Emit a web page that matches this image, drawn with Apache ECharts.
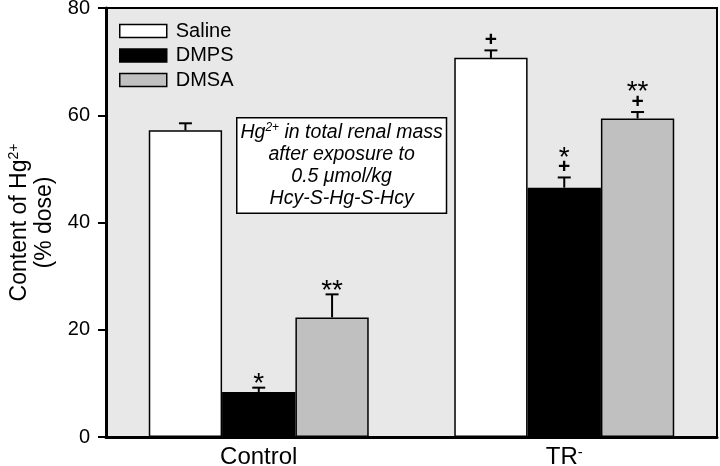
<!DOCTYPE html>
<html><head><meta charset="utf-8">
<script src="https://cdn.jsdelivr.net/npm/echarts@6/dist/echarts.min.js"></script>
<style>html,body{margin:0;padding:0;background:#fff}#c{width:720px;height:466px}</style>
</head><body><div id="c"></div>
<script>
const categories = ['Control', 'TR'];
const yTicks = [0, 20, 40, 60, 80];
const salineMean = [57.2, 70.7];
const salineErr = [1.3, 1.4];
const dmpsMean = [8.4, 46.5];
const dmpsErr = [0.8, 1.9];
const dmsaMean = [22.3, 59.4];
const dmsaErr = [4.3, 1.2];
const salineSig = ['', '+'];
const dmpsSig = ['*', '*\n+'];
const dmsaSig = ['**', '**\n+'];
const seriesNames = ['Saline', 'DMPS', 'DMSA'];
const seriesColors = ['#ffffff', '#000000', '#c0c0c0'];

const FONT = 'Liberation Sans, Arial, sans-serif';
const means = [salineMean, dmpsMean, dmsaMean];
const errs = [salineErr, dmpsErr, dmsaErr];
const sigs = [salineSig, dmpsSig, dmsaSig];
const CAT_GAP = 0.28;

function errSeries(k) {
  return {
    type: 'custom', name: seriesNames[k] + ' err', z: 5, silent: true,
    data: categories.map((c, i) => [i, means[k][i], errs[k][i]]),
    renderItem: function (params, api) {
      const idx = api.value(0), m = api.value(1), e = api.value(2);
      const sig = sigs[k][idx];
      const band = api.size([1, 0])[0];
      const bw = band * (1 - CAT_GAP) / 3;
      const cx = api.coord([idx, 0])[0] + (k - 1) * bw;
      const top = api.coord([idx, m])[1];
      const cap = api.coord([idx, m + e])[1];
      const ls = { stroke: '#000', lineWidth: 2 };
      const children = [
        { type: 'line', shape: { x1: cx, y1: top, x2: cx, y2: cap }, style: ls },
        { type: 'line', shape: { x1: cx - 6.5, y1: cap, x2: cx + 6.5, y2: cap }, style: ls }
      ];
      const lines = sig ? sig.split('\n').reverse() : [];
      let c = cap;
      lines.forEach((t, j) => {
        const star = t.indexOf('*') >= 0;
        c -= (j === 0) ? (star ? 9 : 11) : 14.5;
        children.push({ type: 'text', style: { x: cx, y: star ? c + 6 : c + 1, text: t, textAlign: 'center', textVerticalAlign: 'middle',
          font: (star ? '28px ' : 'bold 21px ') + FONT, fill: '#000' } });
      });
      return { type: 'group', children: children };
    }
  };
}

const chart = echarts.init(document.getElementById('c'), null, { renderer: 'canvas' });
chart.setOption({
  animation: false,
  backgroundColor: '#ffffff',
  grid: { left: 106, right: 3, top: 8, bottom: 29, containLabel: false, outerBoundsMode: 'none',
    show: true, backgroundColor: '#e8e8e8', borderColor: '#000', borderWidth: 2 },
  legend: {
    orient: 'vertical', left: 114, top: 16, itemWidth: 47, itemHeight: 13, itemGap: 4.5, icon: 'rect',
    data: seriesNames,
    textStyle: { fontFamily: FONT, fontSize: 20, color: '#000', padding: [0, 0, 0, 4] },
    itemStyle: { borderColor: '#000', borderWidth: 1.5 }
  },
  xAxis: {
    type: 'category', data: categories,
    axisLine: { lineStyle: { color: '#000', width: 3 } },
    axisTick: { show: false },
    axisLabel: { fontFamily: FONT, fontSize: 24, color: '#000', margin: 8,
      formatter: v => v === 'TR' ? 'TR{sup|-}' : v,
      rich: { sup: { fontFamily: FONT, fontSize: 15, verticalAlign: 'top', lineHeight: 14, color: '#000' } } }
  },
  yAxis: {
    type: 'value', min: 0, max: 80, interval: 20,
    name: 'Content of Hg{sup|2+}\n(% dose)', nameLocation: 'middle', nameGap: 48, nameRotate: 90,
    nameTextStyle: { fontFamily: FONT, fontSize: 23, color: '#000', lineHeight: 25,
      rich: { sup: { fontFamily: FONT, fontSize: 14, verticalAlign: 'top', lineHeight: 12, color: '#000' } } },
    axisLine: { show: true, lineStyle: { color: '#000', width: 3 } },
    axisTick: { show: true, inside: false, length: 8, lineStyle: { color: '#000', width: 2 } },
    axisLabel: { fontFamily: FONT, fontSize: 20, color: '#000', margin: 16,
      formatter: v => yTicks.includes(v) ? String(v) : '' },
    splitLine: { show: false }
  },
  graphic: [{
    type: 'text', left: 236, top: 117, z: 10,
    style: {
      text: 'Hg{sup|2+} in total renal mass\nafter exposure to\n0.5 \u03BCmol/kg\nHcy-S-Hg-S-Hcy',
      font: 'italic 19.5px ' + FONT, fill: '#000', textAlign: 'center', lineHeight: 22,
      rich: { sup: { font: 'italic 12px ' + FONT, verticalAlign: 'top', lineHeight: 12 } },
      backgroundColor: '#fff', borderColor: '#000', borderWidth: 1.5, padding: [3, 3, 3, 3]
    }
  }],
  series: seriesNames.map((n, k) => ({
    type: 'bar', name: n, data: means[k], barGap: '0%', barCategoryGap: (CAT_GAP * 100) + '%',
    itemStyle: { color: seriesColors[k], borderColor: '#000', borderWidth: 1.5 }
  })).concat([0, 1, 2].map(errSeries))
});
</script></body></html>
